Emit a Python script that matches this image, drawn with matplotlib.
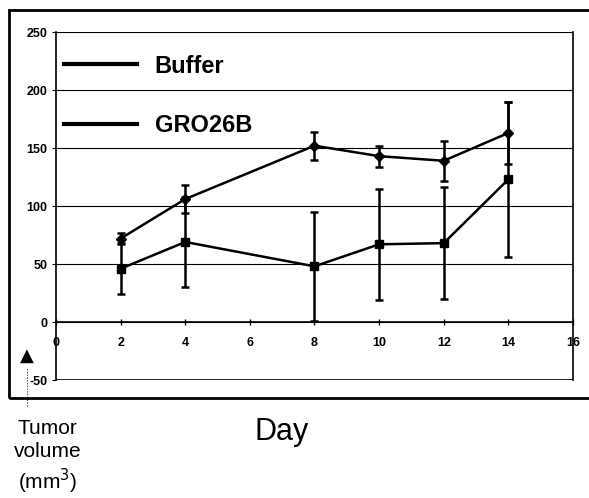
import numpy as np
import matplotlib
matplotlib.use('Agg')
import matplotlib.pyplot as plt
from matplotlib.lines import Line2D
from matplotlib.patches import Rectangle

plt.rcParams['font.family'] = ['Liberation Sans', 'DejaVu Sans']
plt.rcParams['axes.unicode_minus'] = False

# data
days = [2, 4, 8, 10, 12, 14]
buffer_mean = [72, 106, 152, 143, 139, 163]
buffer_err = [5, 12, 12, 9, 17, 27]
gro_mean = [46, 69, 48, 67, 68, 123]
gro_err = [22, 39, 47, 48, 48, 67]

fig = plt.figure(figsize=(5.89, 4.98), dpi=100)
ax = fig.add_axes([0.0951, 0.2369, 0.8777, 0.6988])

ax.errorbar(days, buffer_mean, yerr=buffer_err, color='black', lw=1.8,
            marker='D', ms=5.5, capsize=3, capthick=1.8, elinewidth=1.8, zorder=4)
ax.errorbar(days, gro_mean, yerr=gro_err, color='black', lw=1.8,
            marker='s', ms=5.5, capsize=3, capthick=1.8, elinewidth=1.8, zorder=4)

ax.set_xlim(0, 16)
ax.set_ylim(-50, 250)
ax.set_yticks(np.arange(-50, 251, 50))
ax.set_xticks(np.arange(0, 17, 2))
ax.yaxis.grid(True, color='black', lw=0.8)
ax.set_axisbelow(True)

ax.spines['top'].set_visible(False)
ax.spines['bottom'].set_position(('data', 0))
ax.spines['bottom'].set_linewidth(1.2)
ax.spines['left'].set_linewidth(1.2)
ax.spines['right'].set_linewidth(1.2)
ax.axhline(-50, color='black', lw=1.2)

ax.tick_params(axis='x', direction='inout', length=5, width=1, labelsize=9, pad=8)
ax.tick_params(axis='y', direction='out', length=3, width=0.8, labelsize=9, pad=3)
for lab in ax.get_xticklabels() + ax.get_yticklabels():
    lab.set_fontweight('bold')

handles = [Line2D([], [], color='black', lw=3), Line2D([], [], color='black', lw=3)]
ax.legend(handles, ['Buffer', 'GRO26B'], loc='upper left', bbox_to_anchor=(0.015, 0.935),
          frameon=False, prop={'size': 17, 'weight': 'bold'}, handlelength=3.1,
          handletextpad=0.75, labelspacing=1.55, borderpad=0, borderaxespad=0)

fig.text(0.478, 0.133, 'Day', fontsize=22, ha='center', va='center')
fig.text(0.081, 0.005, 'Tumor\nvolume\n(mm$^3$)', fontsize=15, ha='center', va='bottom',
         linespacing=1.25)
fig.text(0.046, 0.285, '\u25b2', fontsize=13, ha='center', va='center', family='DejaVu Sans')
fig.add_artist(Line2D([0.046, 0.046], [0.185, 0.262], color='black', lw=0.5, ls=(0, (2, 2))))

fig.add_artist(Rectangle((0.0153, 0.2008), 1.0, 0.7792, fill=False, lw=2,
                         edgecolor='black', transform=fig.transFigure))

fig.savefig('out.png', dpi=100)
